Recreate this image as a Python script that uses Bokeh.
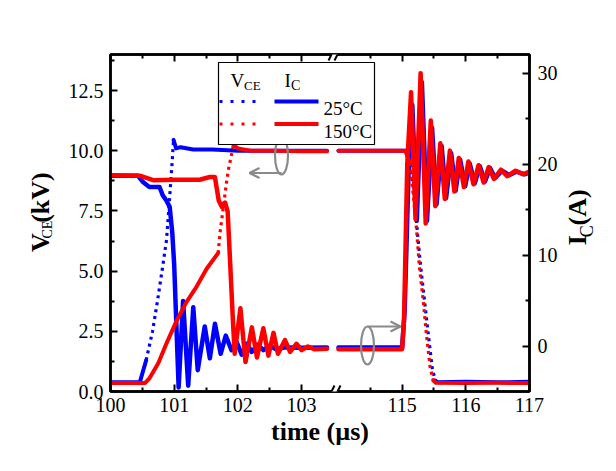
import numpy as np
from bokeh.plotting import figure
from bokeh.layouts import row
from bokeh.models import (Range1d, LinearAxis, FixedTicker, CustomJSTickFormatter,
                          PrintfTickFormatter, Label, BoxAnnotation, Arrow, OpenHead)
from bokeh.embed import file_html
from bokeh.resources import INLINE

# ---------------- data (time in µs, V_CE in kV, I_C in A) ----------------
vce25_t = [100.0, 100.46, 100.56, 100.66, 100.74, 100.82, 100.88, 100.93, 100.97, 100.99,
           101.03, 101.1, 101.3, 101.6, 102.0, 102.5, 103.0, 103.4,
           114.0, 114.5, 115.0, 115.07, 115.14, 115.2, 115.24, 115.29, 115.35, 115.41,
           115.47, 115.52, 115.56, 116.0, 116.5, 117.0]
vce25_v = [0.38, 0.38, 1.3, 2.5, 3.8, 5.2, 6.3, 8.1, 9.6, 10.45,
           10.1, 10.15, 10.05, 10.05, 10.0, 10.0, 10.0, 10.0,
           10.0, 10.0, 10.0, 10.0, 9.3, 7.9, 6.6, 5.2, 3.8, 2.4,
           1.0, 0.45, 0.38, 0.4, 0.38, 0.4]

vce150_t = [100.0, 100.54, 100.61, 100.75, 100.88, 101.03, 101.19, 101.35, 101.51, 101.69,
            101.72, 101.76, 101.82, 101.85, 101.9, 101.93, 102.0, 102.2, 102.6, 103.0, 103.4,
            114.0, 114.5, 115.05, 115.12, 115.19, 115.23, 115.27, 115.33, 115.38, 115.44,
            115.49, 115.53, 116.0, 116.5, 117.0]
vce150_v = [0.35, 0.35, 0.54, 1.17, 2.0, 2.9, 3.7, 4.35, 5.1, 5.75,
            6.6, 7.4, 8.65, 9.2, 9.83, 10.25, 10.1, 10.0, 10.0, 9.98, 9.98,
            10.0, 10.0, 10.0, 9.5, 7.8, 6.6, 5.2, 3.8, 2.4, 1.0,
            0.46, 0.36, 0.35, 0.36, 0.35]

ic25_t = [100.0, 100.43, 100.51, 100.61, 100.77, 100.82, 100.88, 100.93, 100.97, 101.0,
          101.07, 101.14, 101.22, 101.30, 101.37, 101.48, 101.56, 101.64, 101.73, 101.81,
          101.90, 101.98, 102.06, 102.14, 102.22, 102.31, 102.40, 102.50, 102.60, 102.75,
          103.0, 103.4, 114.0, 114.5, 115.0, 115.04, 115.1, 115.16, 115.23, 115.31,
          115.39, 115.47, 115.54, 115.62, 115.69, 115.77, 115.84, 115.91, 115.99, 116.06,
          116.14, 116.22, 116.30, 116.38, 116.46, 116.57, 116.68, 116.8, 116.92, 117.0]
ic25_i = [18.75, 18.75, 18.05, 17.5, 17.5, 16.6, 16.0, 15.3, 12.5, 9.0,
          -4.5, 5.0, -4.3, 4.3, -2.6, 2.2, -1.3, 2.5, -0.8, 1.2,
          -0.4, 0.5, -0.9, 0.3, -0.6, 0.2, -0.4, 0.1, -0.3, -0.1,
          -0.15, -0.1, -0.1, -0.1, -0.1, 4.0, 19.0, 26.5, 13.8, 29.0,
          13.8, 24.0, 15.6, 22.0, 16.3, 21.2, 17.1, 20.5, 17.6, 20.1,
          17.9, 19.8, 18.1, 19.6, 18.5, 19.3, 18.8, 19.2, 18.9, 19.1]

ic150_t = [100.0, 100.46, 100.67, 101.0, 101.4, 101.56, 101.64, 101.67, 101.70, 101.75,
           101.80, 101.84, 101.87, 101.92, 101.95, 102.04, 102.12, 102.22, 102.30, 102.40,
           102.48, 102.56, 102.63, 102.74, 102.82, 102.92, 103.0, 103.1, 103.2, 103.4,
           114.0, 114.5, 115.0, 115.03, 115.08, 115.14, 115.21, 115.29, 115.37, 115.45,
           115.52, 115.60, 115.67, 115.75, 115.82, 115.89, 115.97, 116.04, 116.12, 116.20,
           116.28, 116.36, 116.44, 116.55, 116.65, 116.78, 116.9, 117.0]
ic150_i = [18.8, 18.75, 18.25, 18.3, 18.3, 18.6, 18.6, 17.3, 16.0, 15.3,
           15.8, 14.8, 10.5, 3.2, -0.8, 4.2, -1.7, 2.1, -1.2, 2.0,
           -1.0, 1.5, -0.8, 0.7, -0.6, 0.3, -0.4, 0.0, -0.3, -0.25,
           -0.3, -0.3, -0.3, 3.0, 20.0, 27.9, 14.0, 30.0, 13.5, 24.8,
           15.4, 22.3, 16.2, 21.5, 17.0, 20.7, 17.5, 20.3, 17.8, 19.9,
           18.0, 19.7, 18.4, 19.4, 18.7, 19.3, 18.9, 19.2]

x_major = [100, 101, 102, 103, 115, 116, 117]
x_minor = [100.5, 101.5, 102.5, 114.5, 115.5, 116.5]
v_major = [0.0, 2.5, 5.0, 7.5, 10.0, 12.5]
v_minor = [1.25, 3.75, 6.25, 8.75, 11.25, 13.75]
i_major = [0, 10, 20, 30]
i_minor = [5, 15, 25]
series_names = ["25°C", "150°C"]

# ---------------- broken time axis ----------------
BREAK = 110.0
OFFSET = 10.42          # 114.x µs is drawn right after the break


def tx(t):
    t = np.asarray(t, float)
    return np.where(t > BREAK, t - OFFSET, t)


X0, X1 = 100.0, 117.0 - OFFSET
Y0, Y1 = 0.0, 14.0
I0, I1 = -4.94, 32.05

H = 463
LW, RW = 64, 48                       # side strips holding the vertical axis titles
W_MAIN = 608 - LW - RW
FL, FR, FT, FB = 110, 529, 54, 391    # frame position in page pixels
SX = (FR - FL) / (X1 - X0)
SY = (FB - FT) / (Y1 - Y0)


def dx(px):   # page pixel -> data x
    return X0 + (px - FL) / SX


def dy(py):   # page pixel -> data y (kV)
    return Y0 + (FB - py) / SY


SERIF = "Liberation Serif"
BLUE, RED, GRAY = "#0000ff", "#ff0000", "#8a8a8a"

p = figure(width=W_MAIN, height=H, x_range=Range1d(X0, X1), y_range=Range1d(Y0, Y1),
           output_backend="svg", toolbar_location=None,
           min_border_left=FL - LW, min_border_right=(LW + W_MAIN) - FR,
           min_border_top=FT, min_border_bottom=H - FB)
p.extra_y_ranges = {"ic": Range1d(I0, I1)}
p.xgrid.visible = False
p.ygrid.visible = False
p.outline_line_color = "black"
p.outline_line_width = 2.5
p.outline_line_alpha = 1.0
p.background_fill_color = "white"
p.border_fill_color = "white"

xticker = FixedTicker(ticks=list(tx(x_major)), minor_ticks=list(tx(x_minor)))
xfmt = CustomJSTickFormatter(args=dict(off=OFFSET),
                             code="return String(Math.round(tick > 103.55 ? tick + off : tick));")


def style_axis(ax, standoff=8):
    ax.axis_line_width = 2.5
    ax.axis_line_color = "black"
    ax.major_tick_in = 7
    ax.major_tick_out = 0
    ax.minor_tick_in = 4
    ax.minor_tick_out = 0
    ax.major_tick_line_width = 2
    ax.minor_tick_line_width = 2
    ax.major_label_text_font = SERIF
    ax.major_label_text_font_size = "20px"
    ax.major_label_text_color = "black"
    ax.major_label_standoff = standoff


xa = p.xaxis[0]
xa.ticker = xticker
xa.formatter = xfmt
style_axis(xa, 6)
xa.axis_label = "time (µs)"
xa.axis_label_text_font = SERIF
xa.axis_label_text_font_size = "26px"
xa.axis_label_text_font_style = "bold"
xa.axis_label_text_color = "black"
xa.axis_label_standoff = 2

ya = p.yaxis[0]
ya.ticker = FixedTicker(ticks=v_major, minor_ticks=v_minor)
ya.formatter = PrintfTickFormatter(format="%.1f")
style_axis(ya, 7)

top = LinearAxis(ticker=xticker, formatter=xfmt)
style_axis(top)
top.major_label_text_color = None
p.add_layout(top, "above")

right = LinearAxis(y_range_name="ic", ticker=FixedTicker(ticks=i_major, minor_ticks=i_minor))
style_axis(right, 8)
p.add_layout(right, "right")


# ---------------- traces ----------------
def broken(t, y):
    xs, ys = [], []
    x = tx(t)
    for k in range(len(t)):
        if k > 0 and (t[k - 1] < BREAK) != (t[k] < BREAK):
            xs.append(np.nan)
            ys.append(np.nan)
        xs.append(float(x[k]))
        ys.append(float(y[k]))
    return xs, ys


def runs(t, v, thr=3.5):
    """Split a sampled V_CE trace into slow (dense samples) and fast (sparse dots) runs."""
    x = tx(t)
    solid, dotted = [], []
    kind_prev, cur = None, None
    for k in range(len(t) - 1):
        if (t[k] < BREAK) != (t[k + 1] < BREAK):
            kind_prev = None
            continue
        ddx = abs(x[k + 1] - x[k]) * SX
        ddy = abs(v[k + 1] - v[k]) * SY
        kind = "dot" if ddy > thr * max(ddx, 1e-9) else "solid"
        if kind != kind_prev:
            cur = ([float(x[k])], [float(v[k])])
            (dotted if kind == "dot" else solid).append(cur)
            kind_prev = kind
        cur[0].append(float(x[k + 1]))
        cur[1].append(float(v[k + 1]))
    return solid, dotted


def draw_vce(t, v, color):
    solid, dotted = runs(t, v)
    p.multi_line(xs=[r[0] for r in solid], ys=[r[1] for r in solid], line_color=color,
                 line_width=4, line_join="round", line_cap="round")
    p.multi_line(xs=[r[0] for r in dotted], ys=[r[1] for r in dotted], line_color=color,
                 line_width=3.2, line_dash="3 4", line_cap="butt")


def draw_ic(t, i, color):
    xs, ys = broken(t, i)
    p.line(xs, ys, y_range_name="ic", line_color=color, line_width=4.5,
           line_join="round", line_cap="round")


draw_vce(vce25_t, vce25_v, BLUE)
draw_ic(ic25_t, ic25_i, BLUE)
draw_vce(vce150_t, vce150_v, RED)
draw_ic(ic150_t, ic150_i, RED)

# ---------------- axis break marks ----------------
for yb in (FT, FB):
    p.add_layout(Arrow(end=None, x_start=dx(331), y_start=dy(yb), x_end=dx(337), y_end=dy(yb),
                       line_color="white", line_width=4))
    for x0 in (328, 334):
        p.add_layout(Arrow(end=None, x_start=dx(x0), y_start=dy(yb + 6), x_end=dx(x0 + 6),
                           y_end=dy(yb - 6), line_color="black", line_width=2))

# ---------------- legend ----------------
p.add_layout(BoxAnnotation(left=dx(218), right=dx(374), top=dy(62), bottom=dy(144),
                           fill_color="white", fill_alpha=1.0, line_color="black",
                           line_width=1.2, line_alpha=1.0))


def lab(px, py, text, size, style="normal"):
    p.add_layout(Label(x=dx(px), y=dy(py), text=text, text_font=SERIF,
                       text_font_size=size, text_font_style=style, text_color="black",
                       text_baseline="alphabetic", text_align="left"))


lab(230, 80, "V", "19px")
lab(243.5, 85, "CE", "13px")
lab(284, 80, "I", "19px")
lab(290.5, 85, "C", "14px")
for row_y, color, name in ((101, BLUE, series_names[0]), (123.5, RED, series_names[1])):
    p.add_layout(Arrow(end=None, x_start=dx(219), y_start=dy(row_y), x_end=dx(258), y_end=dy(row_y),
                       line_color=color, line_width=3.2, line_dash="3 8"))
    p.add_layout(Arrow(end=None, x_start=dx(274), y_start=dy(row_y), x_end=dx(318), y_end=dy(row_y),
                       line_color=color, line_width=4))
    lab(323, row_y + 7, name, "19px")

# ---------------- arrows pointing to the axes ----------------
p.ellipse(x=[dx(281)], y=[dy(155)], width=13, height=38, width_units="screen",
          height_units="screen", fill_color=None, line_color=GRAY, line_width=2.2)
p.add_layout(Arrow(end=OpenHead(size=10, line_color=GRAY, line_width=2.2),
                   x_start=dx(281), y_start=dy(172.5), x_end=dx(249), y_end=dy(172.5),
                   line_color=GRAY, line_width=2.2))
p.ellipse(x=[dx(367)], y=[dy(345)], width=13, height=38, width_units="screen",
          height_units="screen", fill_color=None, line_color=GRAY, line_width=2.2)
p.add_layout(Arrow(end=OpenHead(size=10, line_color=GRAY, line_width=2.2),
                   x_start=dx(367), y_start=dy(326), x_end=dx(400), y_end=dy(326),
                   line_color=GRAY, line_width=2.2))


# ---------------- vertical axis titles (with subscripts) in side strips ----------------
def title_strip(width, x_page0, pieces):
    f = figure(width=width, height=H, x_range=Range1d(0, width), y_range=Range1d(0, H),
               output_backend="svg", toolbar_location=None, min_border=0,
               x_axis_location=None, y_axis_location=None)
    f.outline_line_color = None
    f.xgrid.visible = False
    f.ygrid.visible = False
    f.background_fill_color = "white"
    f.border_fill_color = "white"
    for px, py, text, size, style in pieces:
        # (px, py): centre of the piece, in page pixels
        f.add_layout(Label(x=px - x_page0, y=H - py, text=text, text_font=SERIF,
                           text_font_size=size, text_font_style=style, text_color="black",
                           text_baseline="middle", text_align="center", angle=np.pi / 2))
    return f


left_title = title_strip(LW, 0, [(39.5, 258.5, "V", "26px", "bold"),
                                 (46.5, 240.5, "CE", "14px", "normal"),
                                 (39.5, 196.5, "(kV)", "26px", "bold")])
right_title = title_strip(RW, 608 - RW, [(576.5, 255, "I", "26px", "bold"),
                                         (586, 243, "C", "18px", "normal"),
                                         (576.5, 210, "(A)", "26px", "bold")])

layout = row(left_title, p, right_title, spacing=0)
open("out.html", "w").write(file_html(layout, INLINE))
